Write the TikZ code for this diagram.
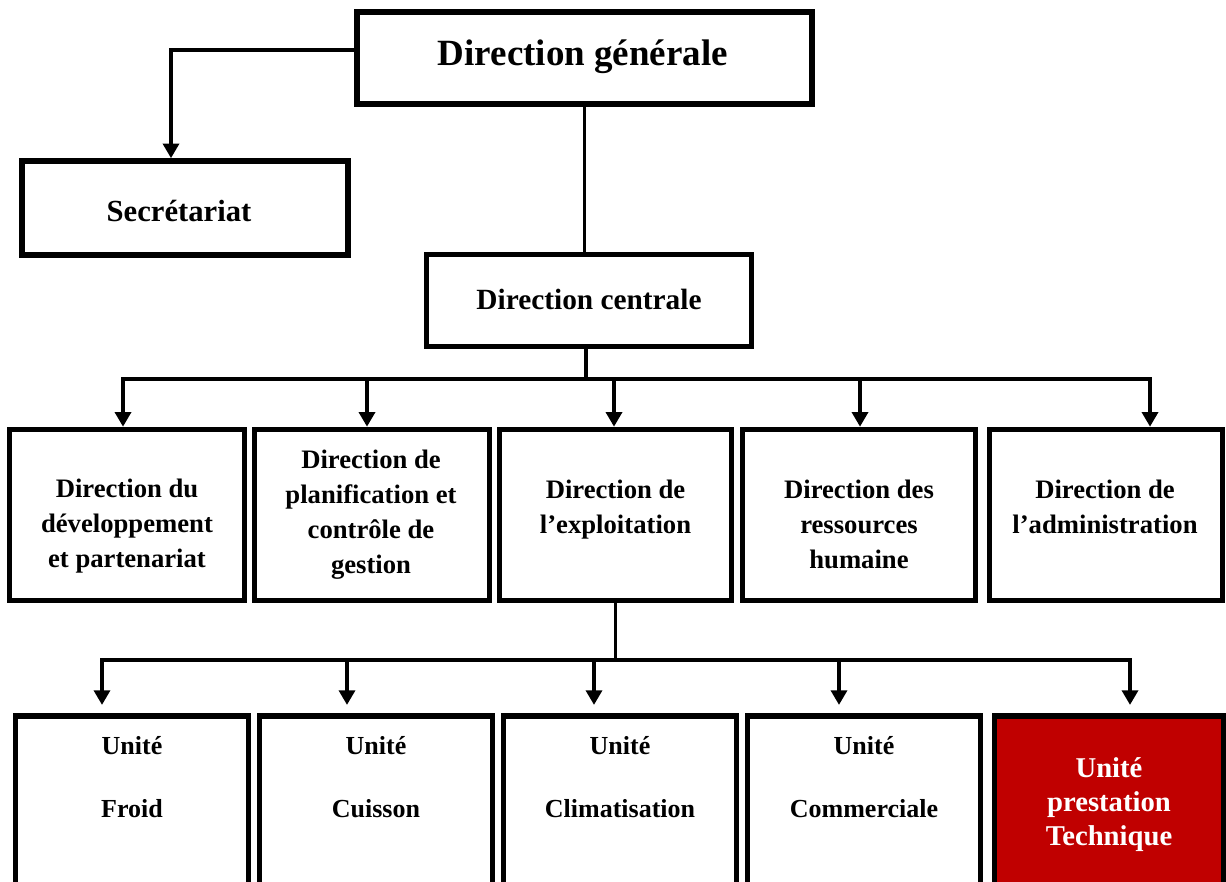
\documentclass[tikz,border=0pt]{standalone}
\usepackage{fontspec}
\setmainfont{Liberation Serif}
\usetikzlibrary{arrows.meta}
\definecolor{boxred}{RGB}{192,0,0}
\begin{document}
\begin{tikzpicture}[x=0.75pt,y=-0.75pt,
  orgbox/.style={draw=black, line width=4.2pt, inner sep=0pt, fill=white},
  link/.style={draw=black, line width=2.6pt, line join=miter},
  tip/.style={-{Triangle[width=12pt,length=11pt]}},
  tiptwo/.style={{Triangle[width=12pt,length=11pt]}-{Triangle[width=12pt,length=11pt]}},
  lbl/.style={inner sep=0pt, align=center, font=\bfseries},
  fdg/.style={lbl, font=\bfseries\fontsize{27.75pt}{33pt}\selectfont},
  fsec/.style={lbl, font=\bfseries\fontsize{23pt}{27pt}\selectfont},
  fdc/.style={lbl, font=\bfseries\fontsize{22pt}{26pt}\selectfont},
  ftwo/.style={lbl, font=\bfseries\fontsize{20pt}{26.25pt}\selectfont},
  fthree/.style={lbl, font=\bfseries\fontsize{19.5pt}{47.25pt}\selectfont},
  fred/.style={lbl, text=white, font=\bfseries\fontsize{21.5pt}{25.5pt}\selectfont}]
\useasboundingbox (0,0) rectangle (1226,881);
\clip (0,0) rectangle (1226,881);
\fill[white] (0,0) rectangle (1226,881);

% top level
\node[orgbox, minimum width={455*0.75pt}, minimum height={92*0.75pt}] (dg) at (584.5,58) {};
\node[orgbox, minimum width={326*0.75pt}, minimum height={94*0.75pt}] (sec) at (185,208) {};
\node[orgbox, minimum width={325*0.75pt}, minimum height={92*0.75pt}] (dc) at (589,300.5) {};

% level 2
\node[orgbox, minimum width={235*0.75pt}, minimum height={171*0.75pt}] (d1) at (127,515) {};
\node[orgbox, minimum width={235*0.75pt}, minimum height={171*0.75pt}] (d2) at (372,515) {};
\node[orgbox, minimum width={232*0.75pt}, minimum height={171*0.75pt}] (d3) at (615.5,515) {};
\node[orgbox, minimum width={233*0.75pt}, minimum height={171*0.75pt}] (d4) at (859,515) {};
\node[orgbox, minimum width={233*0.75pt}, minimum height={171*0.75pt}] (d5) at (1106,515) {};

% level 3
\node[orgbox, minimum width={233*0.75pt}, minimum height={243.5*0.75pt}] (u1) at (132,838) {};
\node[orgbox, minimum width={233*0.75pt}, minimum height={243.5*0.75pt}] (u2) at (376,838) {};
\node[orgbox, minimum width={233*0.75pt}, minimum height={243.5*0.75pt}] (u3) at (620,838) {};
\node[orgbox, minimum width={233*0.75pt}, minimum height={243.5*0.75pt}] (u4) at (864,838) {};
\node[orgbox, fill=boxred, minimum width={229*0.75pt}, minimum height={243.5*0.75pt}] (u5) at (1109,838) {};

% texts (anchor base = baseline of last line)
\node[fdg, anchor=base] (dgt) at (583,65) {Direction générale};
\node[fsec, anchor=base] (sect) at (179,221) {Secrétariat};
\node[fdc, anchor=base] (dct) at (589,309) {Direction centrale};
\node[ftwo, anchor=base] (d1t) at (127,567) {Direction du\\développement\\et partenariat};
\node[ftwo, anchor=base] (d2t) at (371,573) {Direction de\\planification et\\contrôle de\\gestion};
\node[ftwo, anchor=base] (d3t) at (615.5,533) {Direction de\\l’exploitation};
\node[ftwo, anchor=base] (d4t) at (859,568) {Direction des\\ressources\\humaine};
\node[ftwo, anchor=base] (d5t) at (1105,533) {Direction de\\l’administration};
\node[fthree, anchor=base] (u1t) at (132,817) {Unité\\Froid};
\node[fthree, anchor=base] (u2t) at (376,817) {Unité\\Cuisson};
\node[fthree, anchor=base] (u3t) at (620,817) {Unité\\Climatisation};
\node[fthree, anchor=base] (u4t) at (864,817) {Unité\\Commerciale};
\node[fred, anchor=base] (u5t) at (1109,845) {Unité\\prestation\\Technique};

% connectors top
\coordinate (secin) at ([xshift=-10.5pt]sec.north);
\draw[link, tip] ([yshift=6pt]dg.west) -| (secin);
\draw[link] (dg.south) -- (dg.south |- dc.north);

% bus 1
\coordinate (b1a) at (123,379);
\coordinate (b1b) at (367,379);
\coordinate (b1c) at (614,379);
\coordinate (b1d) at (860,379);
\coordinate (b1e) at (1150,379);
\draw[link] ([xshift=-2.25pt]dc.south) -- ([xshift=-2.25pt]dc.south |- b1a);
\draw[link, tiptwo] (b1a |- d1.north) -- (b1a) -- (b1e) -- (b1e |- d5.north);
\draw[link, tip] (b1b) -- (b1b |- d2.north);
\draw[link, tip] (b1c) -- (b1c |- d3.north);
\draw[link, tip] (b1d) -- (b1d |- d4.north);

% bus 2
\coordinate (b2a) at (102,660);
\coordinate (b2b) at (347,660);
\coordinate (b2c) at (594,660);
\coordinate (b2d) at (839,660);
\coordinate (b2e) at (1130,660);
\draw[link] (d3.south) -- (d3.south |- b2a);
\draw[link, tiptwo, shorten <=6.4pt, shorten >=6.4pt] (b2a |- u1.north) -- (b2a) -- (b2e) -- (b2e |- u5.north);
\draw[link, tip, shorten >=6.4pt] (b2b) -- (b2b |- u2.north);
\draw[link, tip, shorten >=6.4pt] (b2c) -- (b2c |- u3.north);
\draw[link, tip, shorten >=6.4pt] (b2d) -- (b2d |- u4.north);
\end{tikzpicture}
\end{document}
